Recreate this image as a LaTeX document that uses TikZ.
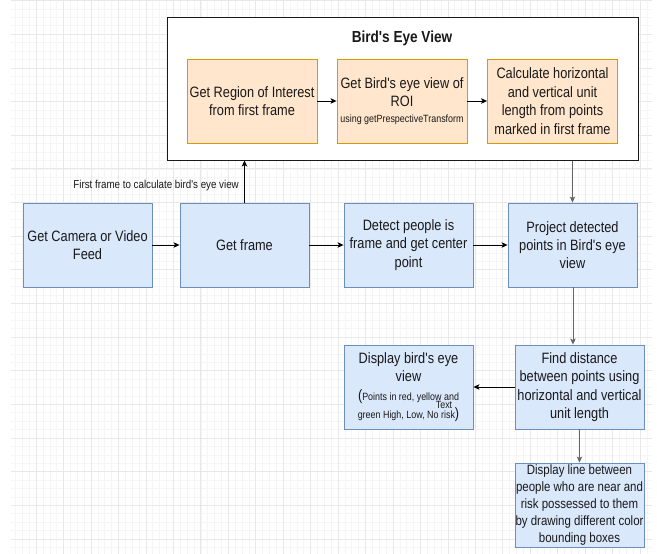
\documentclass[tikz,border=0pt]{standalone}
\usepackage{fontspec}
\setmainfont{Liberation Sans}[FakeStretch=0.85, Ligatures=TeXOff]
\usetikzlibrary{arrows.meta}
\definecolor{blueFill}{HTML}{DAE8FC}
\definecolor{blueLine}{HTML}{6C8EBF}
\definecolor{orgFill}{HTML}{FFE6CC}
\definecolor{orgLine}{HTML}{D79B00}

\begin{document}
\begin{tikzpicture}[x=1pt, y=-1pt, every node/.style={text=black!90, align=center, inner sep=0pt},
  blu/.style={draw=blueLine, fill=blueFill, line width=0.9pt, minimum width=129pt, minimum height=84pt, font=\fontsize{15}{18.3}\selectfont},
  org/.style={draw=orgLine, fill=orgFill, line width=0.9pt, minimum width=130pt, minimum height=84pt, font=\fontsize{15}{18.5}\selectfont},
  arr/.style={-{Stealth[length=6pt, width=5.5pt, inset=1.5pt]}, line width=0.9pt},
  gridmin/.style={draw=black!4, line width=0.5pt}, gridmaj/.style={draw=black!9, line width=0.6pt}]
	\useasboundingbox (0,0) rectangle (657,554);
	% background grid
	\begin{scope}
		\clip (11,0) rectangle (652,554);
		\foreach \i in {0,...,94} {\draw[gridmin] ({8.6+6.8625*\i},0) -- ++(0,554);}
		\foreach \j in {0,...,66} {\draw[gridmin] (11,{0.5+8.4125*\j}) -- ++(641,0);}
		\foreach \i in {0,...,23} {\draw[gridmaj] ({8.6+27.45*\i},0) -- ++(0,554);}
		\foreach \j in {0,...,16} {\draw[gridmaj] (11,{0.5+33.65*\j}) -- ++(641,0);}
	\end{scope}
	% bird's eye view group
	\node[draw=black!90, fill=white, line width=1pt, minimum width=471pt, minimum height=143pt] (bev) at (402.5,88.5) {};
	\node[font=\bfseries\fontsize{16}{19}\selectfont] (title) at (402,38) {Bird's Eye View};
	\node[org] (roi) at (252,101) {Get Region of Interest\\from first frame};
	\node[org] (warp) at (402,101) {Get Bird's eye view of\\ROI\\[-2.5pt]{\fontsize{10.5}{12.5}\selectfont using getPrespectiveTransform}};
	\node[org] (unit) at (552.5,101) {Calculate horizontal\\and vertical unit\\length from points\\marked in first frame};
	% main row
	\node[blu] (feed) at (87.5,245) {Get Camera or Video\\Feed};
	\node[blu] (frame) at (244.5,245) {Get frame};
	\node[blu] (detect) at (408.5,245) {Detect people is\\frame and get center\\point};
	\node[blu] (proj) at (572.5,245) {Project detected\\points in Bird's eye\\view};
	\node[blu] (dist) at (579.5,387) {Find distance\\between points using\\horizontal and vertical\\unit length};
	\node[blu] (show) at (408.5,387) {Display bird's eye\\view\\(\fontsize{10.5}{12.5}\selectfont Points in red, yellow and\\{\fontsize{10.5}{12.5}\selectfont green High, Low, No risk})};
	\node[blu, font=\fontsize{13.5}{16.8}\selectfont] (lines) at (579.5,505) {Display line between\\people who are near and\\risk possessed to them\\by drawing different color\\bounding boxes};
	\node[font=\fontsize{11.5}{13}\selectfont, anchor=east] (note) at (239,186) {First frame to calculate bird's eye view};
	\node[font=\fontsize{10.5}{12}\selectfont] (txt) at (444,405) {Text};
	% connectors
	\foreach \s/\t in {roi/warp, warp/unit, feed/frame, frame/detect, detect/proj, dist/show} {\draw[arr] (\s) -- (\t);}
	\draw[arr] (frame.north) -- (frame.north |- bev.south);
	\draw[arr, black!60] (proj.north |- bev.south) -- (proj.north);
	\draw[arr, black!60] ([xshift=0.5pt]proj.south) -- ([xshift=0.5pt]proj.south |- dist.north);
	\draw[arr, black!60] (dist) -- (lines);
\end{tikzpicture}
\end{document}
